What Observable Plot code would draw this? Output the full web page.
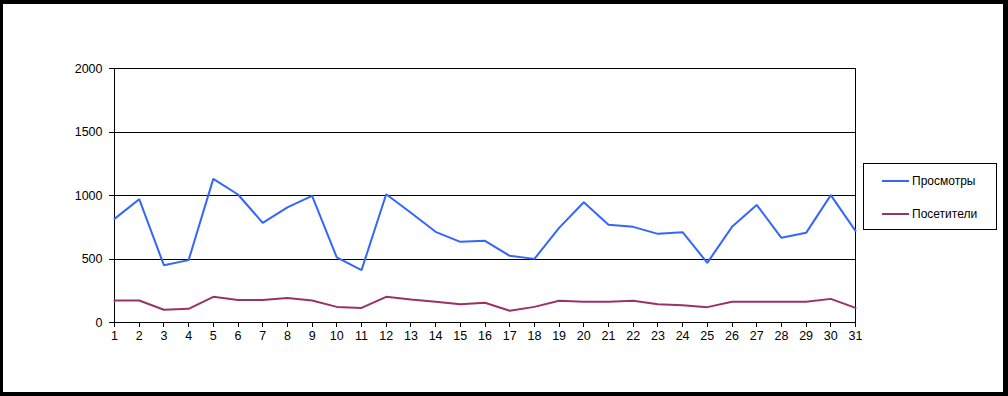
<!DOCTYPE html>
<html>
<head>
<meta charset="utf-8">
<script src="https://cdn.jsdelivr.net/npm/d3@7"></script>
<script src="https://cdn.jsdelivr.net/npm/@observablehq/plot@0.6"></script>
<style>
  html, body { margin: 0; padding: 0; background: #fff; }
  #wrap { position: relative; width: 1008px; height: 396px; overflow: hidden; font-family: "Liberation Sans", Arial, sans-serif; }
  #border { position: absolute; left: 0; top: 0; width: 1008px; height: 396px; box-sizing: border-box;
            border-style: solid; border-color: #000; border-width: 4px 5px 4px 3px; pointer-events: none; }
  #legend { position: absolute; left: 863px; top: 163px; width: 134px; height: 67px; box-sizing: border-box;
            border: 1px solid #000; background: #fff; font-size: 12px; color: #000; }
  .item { position: absolute; left: 18px; height: 14px; display: flex; align-items: center; }
  .item span.sw { display: inline-block; width: 27px; height: 2px; margin-right: 3px; }
</style>
</head>
<body>
<div id="wrap">
  <div id="chart"></div>
  <div id="legend"></div>
  <div id="border"></div>
</div>
<script>
const days = d3.range(1, 32);
const views = [816, 971, 451, 491, 1131, 1008, 785, 906, 997, 512, 412, 1010, 864, 714, 635, 643, 525, 501, 745, 947, 769, 753, 698, 711, 470, 753, 926, 667, 706, 1003, 722];
const visitors = [173, 173, 100, 108, 202, 178, 178, 192, 173, 123, 115, 202, 181, 163, 144, 155, 92, 123, 171, 163, 163, 171, 144, 136, 121, 163, 163, 163, 163, 186, 115];
const seriesNames = ["Просмотры", "Посетители"];
const seriesColors = ["#3366ff", "#993366"];
const yTicks = [0, 500, 1000, 1500, 2000];
const gridValues = [500, 1000, 1500, 2000];

const rows = [];
days.forEach((d, i) => {
  rows.push({day: d, value: views[i], series: seriesNames[0]});
  rows.push({day: d, value: visitors[i], series: seriesNames[1]});
});

const chart = Plot.plot({
  width: 1008,
  height: 396,
  marginLeft: 114,
  marginRight: 153,
  marginTop: 68,
  marginBottom: 74,
  style: {fontFamily: "'Liberation Sans', Arial, sans-serif", fontSize: "12.5px", color: "#000", background: "#fff"},
  x: {domain: [1, 31]},
  y: {domain: [0, 2000]},
  color: {domain: seriesNames, range: seriesColors},
  marks: [
    Plot.ruleY(gridValues, {stroke: "#000", strokeWidth: 1, shapeRendering: "crispEdges"}),
    Plot.frame({stroke: "#000", strokeWidth: 1, shapeRendering: "crispEdges"}),
    Plot.axisY({ticks: yTicks, tickSize: 5, tickPadding: 7, label: null, tickFormat: d => String(d), stroke: "#000", fill: "#000", shapeRendering: "crispEdges"}),
    Plot.axisX({ticks: days, tickSize: 5, tickPadding: 4, label: null, tickFormat: d => String(d), stroke: "#000", fill: "#000", shapeRendering: "crispEdges"}),
    Plot.line(rows, {x: "day", y: "value", stroke: "series", strokeWidth: 2, strokeLinejoin: "miter", z: "series"})
  ]
});
document.getElementById("chart").appendChild(chart);

const legend = document.getElementById("legend");
seriesNames.forEach((name, i) => {
  const it = document.createElement("div");
  it.className = "item";
  it.style.top = (10 + i * 33) + "px";
  it.innerHTML = `<span class="sw" style="background:${seriesColors[i]}"></span><span>${name}</span>`;
  legend.appendChild(it);
});
</script>
</body>
</html>
